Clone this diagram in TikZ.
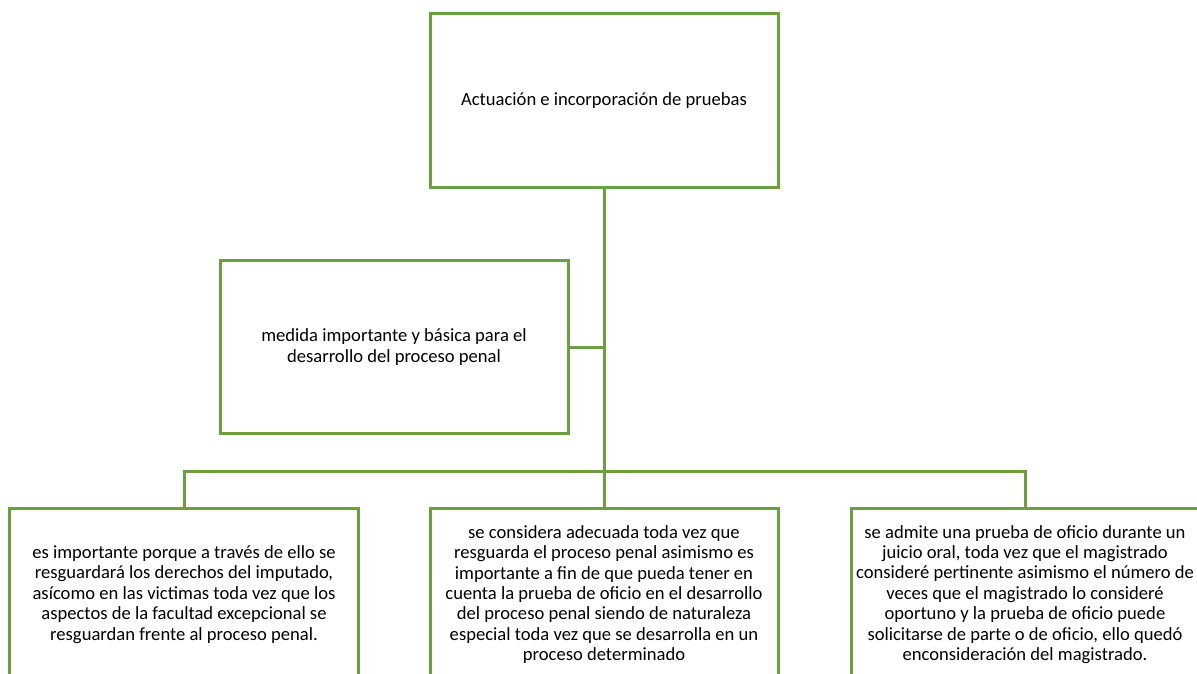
\documentclass[tikz,border=0pt]{standalone}
\usepackage{fontspec}
\setmainfont{Carlito}
\definecolor{boxgreen}{RGB}{106,160,66}
\begin{document}
\begin{tikzpicture}[x=1bp,y=-1bp,
  box/.style={draw=boxgreen, line width=3bp, minimum width=348bp, minimum height=173bp,
    align=center, inner sep=0pt, font=\fontsize{18.6bp}{20.4bp}\selectfont},
  link/.style={draw=boxgreen, line width=3bp}]
\useasboundingbox (0,0) rectangle (1197,674);
\clip (0,0) rectangle (1197,674);
\fill[white] (0,0) rectangle (1197,674);
\node[box] (top) at (604,100.5) {Actuación e incorporación de pruebas};
\node[box, minimum height=172bp] (side) at (394,347) {medida importante y básica para el\\desarrollo del proceso penal};
\node[box] (left) at (184,594.5) {es importante porque a través de ello se\\resguardará los derechos del imputado,\\asícomo en las victimas toda vez que los\\aspectos de la facultad excepcional se\\resguardan frente al proceso penal.};
\node[box] (mid) at (604,594.5) {se considera adecuada toda vez que\\resguarda el proceso penal asimismo es\\importante a fin de que pueda tener en\\cuenta la prueba de oficio en el desarrollo\\del proceso penal siendo de naturaleza\\especial toda vez que se desarrolla en un\\proceso determinado};
\node[box] (right) at (1025,594.5) {se admite una prueba de oficio durante un\\juicio oral, toda vez que el magistrado\\consideré pertinente asimismo el número de\\veces que el magistrado lo consideré\\oportuno y la prueba de oficio puede\\solicitarse de parte o de oficio, ello quedó\\enconsideración del magistrado.};
\coordinate (bus) at (604,471);
\draw[link] (top.south) -- (bus);
\draw[link] (side.east) -- (side.east -| bus);
\draw[link] (left.north) |- (bus) -| (right.north);
\draw[link] (bus) -- (mid.north);
\end{tikzpicture}
\end{document}
